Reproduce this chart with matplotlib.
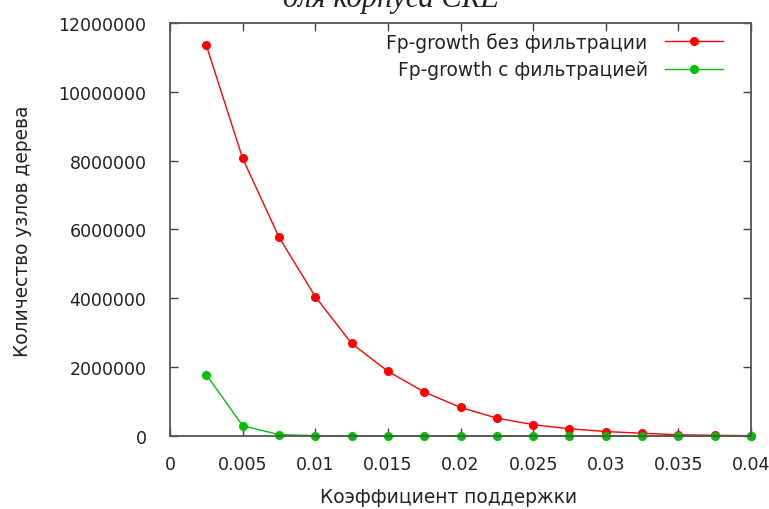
import matplotlib
matplotlib.use("Agg")
import matplotlib.pyplot as plt

support = [0.0025, 0.005, 0.0075, 0.01, 0.0125, 0.015, 0.0175, 0.02,
           0.0225, 0.025, 0.0275, 0.03, 0.0325, 0.035, 0.0375, 0.04]
nodes_no_filter = [11350000, 8070000, 5780000, 4050000, 2690000, 1880000,
                   1280000, 830000, 520000, 330000, 210000, 130000,
                   80000, 35000, 20000, 10000]
nodes_filter = [1780000, 300000, 40000, 10000, 8000, 6000, 5000, 4000,
                3000, 2000, 1500, 1000, 800, 600, 400, 300]

label_no_filter = "Fp-growth без фильтрации"
label_filter = "Fp-growth с фильтрацией"
xlabel = "Коэффициент поддержки"
ylabel = "Количество узлов дерева"
title = "для корпуса CRE"

xticks = [0, 0.005, 0.01, 0.015, 0.02, 0.025, 0.03, 0.035, 0.04]
xticklabels = ["0", "0.005", "0.01", "0.015", "0.02", "0.025", "0.03", "0.035", "0.04"]
yticks = [0, 2000000, 4000000, 6000000, 8000000, 10000000, 12000000]
yticklabels = ["0", "2000000", "4000000", "6000000", "8000000", "10000000", "12000000"]

plt.rcParams['font.family'] = ['DejaVu Sans']
fs_tick = 12.5
fs = 13.4
W, H = 769, 510
fig = plt.figure(figsize=(W / 100, H / 100), dpi=100)
ax = fig.add_axes([170 / W, 1 - 437 / H, (751 - 170) / W, (437 - 24) / H])

ax.plot(support, nodes_no_filter, color='#ff0000', lw=1.0, marker='o', ms=5.5,
        mec='#ff0000', mfc='#ff0000', label=label_no_filter, zorder=2, clip_on=False)
ax.plot(support, nodes_filter, color='#00c000', lw=1.0, marker='o', ms=5.5,
        mec='#00c000', mfc='#00c000', label=label_filter, zorder=2, clip_on=False)

ax.set_xlim(0, 0.04)
ax.set_ylim(0, 12000000)
ax.set_xticks(xticks)
ax.set_xticklabels(xticklabels)
ax.set_yticks(yticks)
ax.set_yticklabels(yticklabels)
ax.tick_params(direction='in', length=6, width=1, color='#404040',
               top=True, right=True, labelsize=fs_tick, labelcolor='#222222')
ax.tick_params(axis='x', pad=14)
ax.tick_params(axis='y', pad=17)
for s in ax.spines.values():
    s.set_color('#555555')
    s.set_linewidth(1.3)
    s.set_zorder(3)

leg = ax.legend(loc='upper right', bbox_to_anchor=(723 / W, 1 - 33 / H),
                bbox_transform=fig.transFigure, frameon=False, markerfirst=False,
                fontsize=fs, handlelength=3.1, handletextpad=0.95,
                labelspacing=0.45, borderpad=0, borderaxespad=0)
for t in leg.get_texts():
    t.set_color('#222222')

fig.text(449 / W, 1 - 498 / H, xlabel, ha='center', va='center', fontsize=fs, color='#222222')
fig.text(23 / W, 1 - 231 / H, ylabel, ha='center', va='center', rotation=90,
         fontsize=fs, color='#222222')
fig.text(391 / W, 1 - 7 / H, title, ha='center', va='baseline', fontsize=22,
         family=['Liberation Serif', 'DejaVu Serif'], fontstyle='italic', color='#222222')

fig.savefig('out.png', dpi=100)
